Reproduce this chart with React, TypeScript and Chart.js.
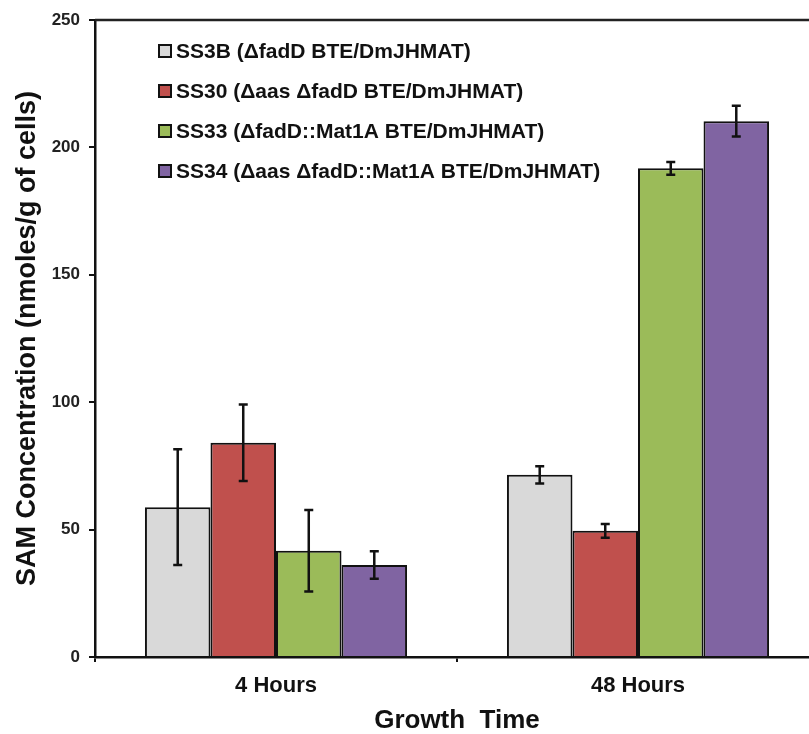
import React, { useEffect, useRef } from "react";
import { Chart, registerables } from "chart.js";

Chart.register(...registerables);

const categories = ["4 Hours", "48 Hours"];
const seriesLabels = [
  "SS3B (ΔfadD BTE/DmJHMAT)",
  "SS30 (Δaas ΔfadD BTE/DmJHMAT)",
  "SS33 (ΔfadD::Mat1A BTE/DmJHMAT)",
  "SS34 (Δaas ΔfadD::Mat1A BTE/DmJHMAT)",
];
const seriesColors = ["#D9D9D9", "#C0504D", "#9BBB59", "#8064A2"];
const ss3bValues = [58.8, 71.5];
const ss30Values = [84.1, 49.5];
const ss33Values = [41.7, 191.8];
const ss34Values = [36.1, 210.3];
const ss3bErrors = [22.7, 3.4];
const ss30Errors = [15.0, 2.7];
const ss33Errors = [16.0, 2.5];
const ss34Errors = [5.4, 6.0];
const yTicks = [0, 50, 100, 150, 200, 250];

const FONT = '"Liberation Sans", Arial, Helvetica, sans-serif';
const INK = "#111111";

const allValues = [ss3bValues, ss30Values, ss33Values, ss34Values];
const allErrors = [ss3bErrors, ss30Errors, ss33Errors, ss34Errors];

const errorBarPlugin = {
  id: "errorBars",
  afterDatasetsDraw(chart: any) {
    const ctx = chart.ctx;
    const yScale = chart.scales.y;
    ctx.save();
    ctx.strokeStyle = INK;
    ctx.lineWidth = 2.5;
    chart.data.datasets.forEach((ds: any, di: number) => {
      const meta = chart.getDatasetMeta(di);
      meta.data.forEach((el: any, i: number) => {
        const v = ds.data[i];
        const e = ds.errors[i];
        const x = el.x;
        const yTop = yScale.getPixelForValue(v + e);
        const yBot = yScale.getPixelForValue(v - e);
        const cap = 4.5;
        ctx.beginPath();
        ctx.moveTo(x, yTop);
        ctx.lineTo(x, yBot);
        ctx.moveTo(x - cap, yTop);
        ctx.lineTo(x + cap, yTop);
        ctx.moveTo(x - cap, yBot);
        ctx.lineTo(x + cap, yBot);
        ctx.stroke();
      });
    });
    ctx.restore();
  },
};

const framePlugin = {
  id: "frameAndLegend",
  afterDraw(chart: any) {
    const ctx = chart.ctx;
    const area = chart.chartArea;
    ctx.save();
    // top frame line
    ctx.strokeStyle = "#222222";
    ctx.lineWidth = 2.5;
    ctx.beginPath();
    ctx.moveTo(area.left, area.top);
    ctx.lineTo(chart.width, area.top);
    ctx.stroke();

    // legend
    const rowY = [51, 91, 131, 171];
    ctx.font = `bold 21px ${FONT}`;
    ctx.textBaseline = "middle";
    ctx.textAlign = "left";
    chart.data.datasets.forEach((ds: any, i: number) => {
      const y = rowY[i];
      ctx.fillStyle = ds.backgroundColor;
      ctx.fillRect(159, y - 6, 12, 12);
      ctx.strokeStyle = INK;
      ctx.lineWidth = 2;
      ctx.strokeRect(159, y - 6, 12, 12);
      ctx.fillStyle = INK;
      ctx.fillText(ds.label, 176, y + 1);
    });
    ctx.restore();
  },
};

export default function App() {
  const canvasRef = useRef<HTMLCanvasElement | null>(null);

  useEffect(() => {
    const canvas = canvasRef.current;
    if (!canvas) return;
    const chart = new Chart(canvas, {
      type: "bar",
      data: {
        labels: categories,
        datasets: seriesLabels.map((label, i) => ({
          label,
          data: allValues[i],
          errors: allErrors[i],
          backgroundColor: seriesColors[i],
          borderColor: INK,
          borderWidth: 2,
          categoryPercentage: 0.724,
          barPercentage: 1.0,
        })) as any,
      },
      options: {
        animation: false,
        responsive: false,
        maintainAspectRatio: false,
        devicePixelRatio: 1,
        layout: { padding: { top: 20, right: 11, left: 0, bottom: 0 } },
        plugins: {
          legend: { display: false },
          tooltip: { enabled: false },
        },
        scales: {
          x: {
            grid: {
              display: true,
              drawOnChartArea: false,
              offset: true,
              tickLength: 5,
              color: INK,
              lineWidth: 2,
            },
            border: { color: INK, width: 2.5 },
            ticks: {
              font: { family: FONT, size: 22, weight: "bold" },
              color: INK,
              padding: 11,
            },
            title: {
              display: true,
              text: "Growth  Time",
              font: { family: FONT, size: 26, weight: "bold" },
              color: INK,
              padding: { top: 0, bottom: 0 },
            },
            afterFit: (s: any) => {
              s.height = 79;
            },
          },
          y: {
            min: 0,
            max: 250,
            afterBuildTicks: (s: any) => {
              s.ticks = yTicks.map((v) => ({ value: v }));
            },
            grid: {
              drawOnChartArea: false,
              tickLength: 6,
              color: INK,
              lineWidth: 2,
            },
            border: { color: INK, width: 2.5 },
            ticks: {
              font: { family: FONT, size: 17, weight: "bold" },
              color: "#222222",
              padding: 9,
            },
            title: {
              display: true,
              text: "SAM Concentration (nmoles/g of cells)",
              font: { family: FONT, size: 27, weight: "bold" },
              color: INK,
              padding: { top: 11, bottom: 0 },
            },
            afterFit: (s: any) => {
              s.width = 95;
            },
          },
        },
      } as any,
      plugins: [errorBarPlugin, framePlugin],
    });
    return () => chart.destroy();
  }, []);

  return (
    <div
      style={{
        position: "fixed",
        left: 0,
        top: 0,
        width: 809,
        height: 734,
        overflow: "hidden",
        background: "#ffffff",
      }}
    >
      <canvas
        ref={canvasRef}
        width={830}
        height={736}
        style={{ display: "block", width: 830, height: 736 }}
      />
    </div>
  );
}
